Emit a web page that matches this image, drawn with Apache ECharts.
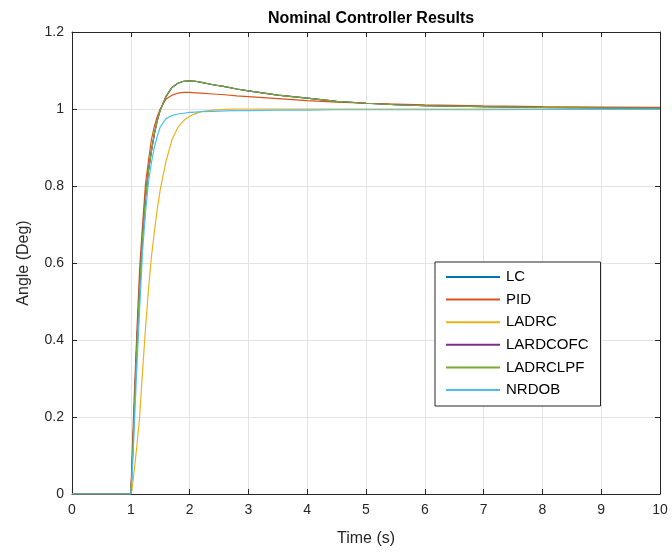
<!DOCTYPE html>
<html><head><meta charset="utf-8">
<script src="https://cdn.jsdelivr.net/npm/echarts@6/dist/echarts.min.js"></script>
<style>html,body{margin:0;padding:0;background:#fff}#c{width:672px;height:558px}</style>
</head><body><div id="c"></div>
<script>
const title = "Nominal Controller Results";
const xName = "Time (s)";
const yName = "Angle (Deg)";
const seriesNames = ["LC", "PID", "LADRC", "LARDCOFC", "LADRCLPF", "NRDOB"];
const colors = ["#0072BD", "#D95319", "#EDB120", "#7E2F8E", "#77AC30", "#4DBEEE"];
const xTicks = [0,1,2,3,4,5,6,7,8,9,10];
const yTicks = [0,0.2,0.4,0.6,0.8,1,1.2];

const time     = [0, 1, 1.02, 1.05, 1.1, 1.15, 1.2, 1.25, 1.3, 1.35, 1.4, 1.45, 1.5, 1.6, 1.7, 1.8, 1.9, 2.0, 2.1, 2.2, 2.4, 2.6, 2.8, 3.0, 3.5, 4.0, 4.5, 5, 5.5, 6, 7, 8, 9, 10];
const lc       = [0, 0, 0.06, 0.18, 0.38, 0.54, 0.67, 0.77, 0.84, 0.89, 0.935, 0.97, 0.997, 1.033, 1.056, 1.067, 1.072, 1.073, 1.072, 1.069, 1.063, 1.058, 1.052, 1.047, 1.036, 1.028, 1.020, 1.015, 1.011, 1.009, 1.006, 1.004, 1.003, 1.002];
const pid      = [0, 0, 0.09, 0.22, 0.41, 0.585, 0.70, 0.805, 0.865, 0.92, 0.955, 0.98, 1.0, 1.026, 1.036, 1.041, 1.043, 1.043, 1.042, 1.041, 1.039, 1.037, 1.034, 1.032, 1.027, 1.022, 1.018, 1.015, 1.013, 1.011, 1.008, 1.006, 1.005, 1.004];
const ladrc    = [0, 0, 0.01, 0.05, 0.12, 0.20, 0.32, 0.43, 0.53, 0.615, 0.68, 0.74, 0.79, 0.865, 0.92, 0.952, 0.97, 0.981, 0.988, 0.993, 0.997, 0.999, 1.0, 1.0, 1.0, 1.0, 1.0, 1.0, 1.0, 1.0, 1.0, 1.0, 1.0, 1.0];
const lardcofc = [0, 0, 0.06, 0.18, 0.38, 0.54, 0.67, 0.77, 0.84, 0.89, 0.935, 0.97, 0.997, 1.033, 1.056, 1.067, 1.072, 1.073, 1.072, 1.069, 1.063, 1.058, 1.052, 1.047, 1.036, 1.028, 1.020, 1.015, 1.011, 1.009, 1.006, 1.004, 1.003, 1.002];
const ladrclpf = [0, 0, 0.06, 0.18, 0.38, 0.54, 0.67, 0.77, 0.84, 0.89, 0.935, 0.97, 0.997, 1.033, 1.056, 1.067, 1.072, 1.073, 1.072, 1.069, 1.063, 1.058, 1.052, 1.047, 1.036, 1.028, 1.020, 1.015, 1.011, 1.009, 1.006, 1.004, 1.003, 1.002];
const nrdob    = [0, 0, 0.04, 0.14, 0.32, 0.48, 0.63, 0.73, 0.81, 0.86, 0.90, 0.93, 0.953, 0.975, 0.983, 0.987, 0.989, 0.991, 0.992, 0.993, 0.994, 0.995, 0.996, 0.996, 0.997, 0.997, 0.998, 0.998, 0.998, 0.998, 0.998, 0.999, 0.999, 0.999];
const allData = [lc, pid, ladrc, lardcofc, ladrclpf, nrdob];

const font = "Liberation Sans, Arial, Helvetica, sans-serif";
const dark = "#262626";
const chart = echarts.init(document.getElementById('c'), null, {renderer: 'canvas'});

function axisBase(extra) {
  return Object.assign({
    type: 'value',
    axisLine: {show: true, onZero: false, lineStyle: {color: dark, width: 1}},
    axisTick: {show: true, inside: true, length: 5, lineStyle: {color: dark}},
    splitLine: {show: false},
    axisLabel: {show: false},
  }, extra);
}

chart.setOption({
  animation: false,
  backgroundColor: '#fff',
  title: {
    text: title, left: 366, top: 6, textAlign: 'center',
    textStyle: {fontFamily: font, fontSize: 16, fontWeight: 'bold', color: '#000'}
  },
  grid: {left: 72, right: 12, top: 32, bottom: 64, show: false},
  legend: {
    orient: 'vertical', left: 435, top: 262,
    data: seriesNames,
    icon: 'rect', itemWidth: 54, itemHeight: 2, itemGap: 6.6,
    padding: [7, 12, 8, 11],
    borderColor: dark, borderWidth: 1, backgroundColor: '#fff',
    textStyle: {fontFamily: font, fontSize: 15, color: '#000', lineHeight: 16, padding: [0,0,0,1]}
  },
  xAxis: [
    axisBase({
      min: 0, max: 10, interval: 1, position: 'bottom',
      name: xName, nameLocation: 'middle', nameGap: 37,
      nameTextStyle: {fontFamily: font, fontSize: 16, color: dark},
      axisLabel: {show: true, fontFamily: font, fontSize: 14, color: dark, margin: 9,
        formatter: v => xTicks.includes(v) ? String(v) : ''},
      splitLine: {show: true, lineStyle: {color: '#e3e3e3', width: 1}}
    }),
    axisBase({min: 0, max: 10, interval: 1, position: 'top'})
  ],
  yAxis: [
    axisBase({
      min: 0, max: 1.2, interval: 0.2, position: 'left',
      name: yName, nameLocation: 'middle', nameGap: 40, nameRotate: 90,
      nameTextStyle: {fontFamily: font, fontSize: 16, color: dark},
      axisLabel: {show: true, fontFamily: font, fontSize: 14, color: dark, margin: 8,
        formatter: v => { const r = Math.round(v*10)/10; return yTicks.includes(r) ? String(r) : ''; }},
      splitLine: {show: true, lineStyle: {color: '#e3e3e3', width: 1}}
    }),
    axisBase({min: 0, max: 1.2, interval: 0.2, position: 'right'})
  ],
  series: seriesNames.map((n, i) => ({
    name: n, type: 'line', xAxisIndex: 0, yAxisIndex: 0,
    data: time.map((t, k) => [t, allData[i][k]]),
    showSymbol: false, symbol: 'none',
    smooth: false,
    lineStyle: {color: colors[i], width: 1.2},
    itemStyle: {color: colors[i]},
    z: 2 + i
  }))
});
</script></body></html>
